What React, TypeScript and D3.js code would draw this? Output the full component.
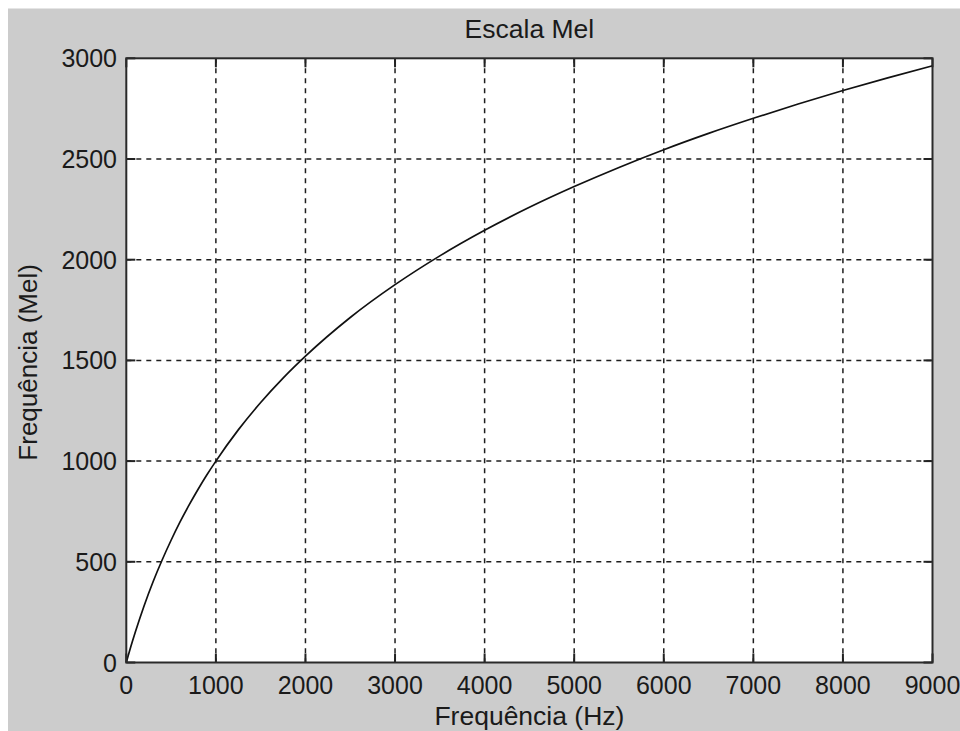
import React from "react";
import * as d3 from "d3";

// Values
const freqHz = [0, 50, 100, 200, 300, 400, 500, 600, 700, 800, 900, 1000, 1250, 1500, 1750, 2000, 2500, 3000, 3500, 4000, 4500, 5000, 5500, 6000, 6500, 7000, 7500, 8000, 8500, 9000];
const melValues = [0, 78, 150, 283, 402, 509, 607, 698, 781, 859, 932, 1000, 1155, 1291, 1412, 1521, 1713, 1876, 2019, 2146, 2260, 2363, 2458, 2546, 2627, 2702, 2773, 2840, 2903, 2963];
const xTicks = [0, 1000, 2000, 3000, 4000, 5000, 6000, 7000, 8000, 9000];
const yTicks = [0, 500, 1000, 1500, 2000, 2500, 3000];
const titleText = "Escala Mel";
const xLabelText = "Frequência (Hz)";
const yLabelText = "Frequência (Mel)";

export default function App() {
  const W = 960;
  const H = 731;
  const left = 126.3, right = 932.5, top = 58.3, bottom = 662.5;
  const x = d3.scaleLinear().domain([0, 9000]).range([left, right]);
  const y = d3.scaleLinear().domain([0, 3000]).range([bottom, top]);
  const pts: [number, number][] = freqHz.map((f, i) => [f, melValues[i]]);
  const line = d3.line<[number, number]>()
    .x(d => x(d[0]))
    .y(d => y(d[1]))
    .curve(d3.curveMonotoneX);
  const font = "'Liberation Sans', Arial, sans-serif";
  const textColor = "#1a1a1a";
  const tickLen = 9;
  const gridColor = "#1e1e1e";

  return (
    <svg width={W} height={H} style={{ position: "absolute", left: 0, top: 0, display: "block" }} fontFamily={font}>
      <rect x={0} y={0} width={W} height={H} fill="#ffffff" />
      <rect x={8} y={8.5} width={W - 8} height={H - 8.5} fill="#cccccc" />
      <rect x={left} y={top} width={right - left} height={bottom - top} fill="#ffffff" />
      {/* grid */}
      {xTicks.slice(1, -1).map(t => (
        <line key={"gx" + t} x1={x(t)} x2={x(t)} y1={top} y2={bottom} stroke={gridColor} strokeWidth={1.5} strokeDasharray="5,5" />
      ))}
      {yTicks.slice(1, -1).map(t => (
        <line key={"gy" + t} x1={left} x2={right} y1={y(t)} y2={y(t)} stroke={gridColor} strokeWidth={1.5} strokeDasharray="5,5" />
      ))}
      {/* ticks */}
      {xTicks.map(t => (
        <g key={"tx" + t}>
          <line x1={x(t)} x2={x(t)} y1={bottom} y2={bottom - tickLen} stroke="#222" strokeWidth={2} />
          <line x1={x(t)} x2={x(t)} y1={top} y2={top + tickLen} stroke="#222" strokeWidth={2} />
        </g>
      ))}
      {yTicks.map(t => (
        <g key={"ty" + t}>
          <line x1={left} x2={left + tickLen} y1={y(t)} y2={y(t)} stroke="#222" strokeWidth={2} />
          <line x1={right} x2={right - tickLen} y1={y(t)} y2={y(t)} stroke="#222" strokeWidth={2} />
        </g>
      ))}
      {/* curve */}
      <path d={line(pts) || ""} fill="none" stroke="#111" strokeWidth={1.7} />
      {/* box */}
      <rect x={left} y={top} width={right - left} height={bottom - top} fill="none" stroke="#2a2a2a" strokeWidth={2} />
      {/* tick labels */}
      {xTicks.map(t => (
        <text key={"lx" + t} x={x(t)} y={694} textAnchor="middle" fontSize={25} fill={textColor}>{t}</text>
      ))}
      {yTicks.map(t => (
        <text key={"ly" + t} x={117} y={y(t)} dy="0.36em" textAnchor="end" fontSize={25} fill={textColor}>{t}</text>
      ))}
      {/* title and labels */}
      <text x={(left + right) / 2} y={38} textAnchor="middle" fontSize={26.5} fill={textColor}>{titleText}</text>
      <text x={(left + right) / 2} y={725} textAnchor="middle" fontSize={26.5} fill={textColor}>{xLabelText}</text>
      <text transform={`translate(37,${(top + bottom) / 2 + 2}) rotate(-90)`} textAnchor="middle" fontSize={26} fill={textColor}>{yLabelText}</text>
    </svg>
  );
}
